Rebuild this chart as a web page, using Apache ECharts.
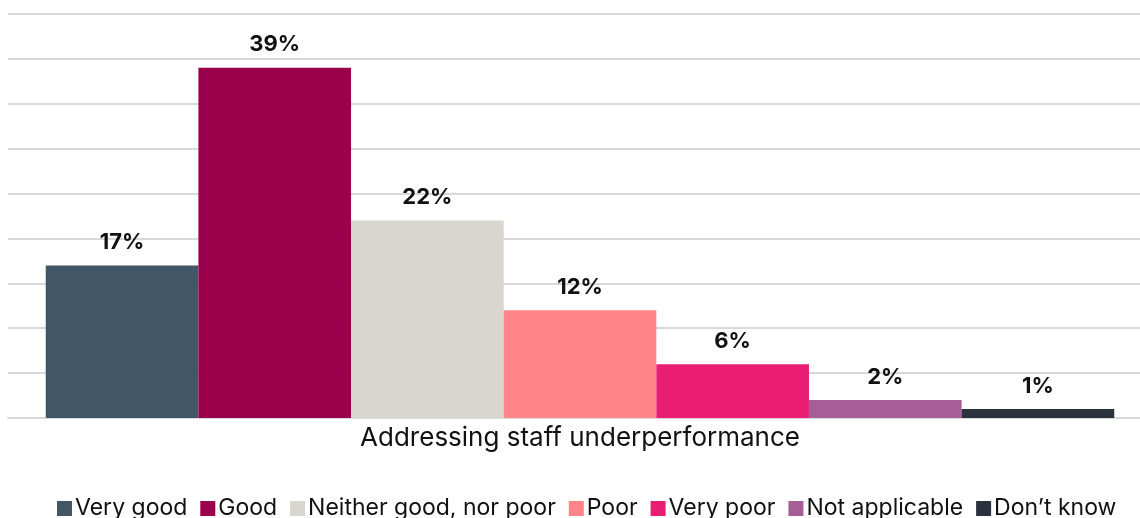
<!DOCTYPE html>
<html>
<head>
<meta charset="utf-8">
<script src="https://cdn.jsdelivr.net/npm/echarts@6/dist/echarts.min.js"></script>
<style>
  html, body { margin: 0; padding: 0; background: #ffffff; overflow: hidden; width: 1140px; height: 518px; }
  #chart { width: 1152px; height: 518px; }
</style>
</head>
<body>
<div id="chart"></div>
<script>
// Survey responses for a single question, one bar per answer
const categories = ['Addressing staff underperformance'];
const seriesNames = ['Very good', 'Good', 'Neither good, nor poor', 'Poor', 'Very poor', 'Not applicable', 'Don\u2019t know'];
const seriesValues = [17, 39, 22, 12, 6, 2, 1];
const seriesColors = ['#435666', '#9a004b', '#d9d5cf', '#ff8589', '#e91e73', '#a65e96', '#29323d'];

const FONT = 'Inter, "Liberation Sans", Arial, sans-serif';

const chart = echarts.init(document.getElementById('chart'), null, { renderer: 'canvas' });

const series = seriesNames.map((name, i) => ({
  name: name,
  type: 'bar',
  data: [seriesValues[i]],
  barGap: '0%',
  barCategoryGap: '6.6%',
  itemStyle: { color: seriesColors[i] },
  label: {
    show: true,
    position: 'top',
    distance: 12,
    formatter: '{c}%',
    fontFamily: FONT,
    fontWeight: 'bold',
    fontSize: 22,
    color: '#111111'
  }
}));

chart.setOption({
  animation: false,
  grid: { left: 8, right: 0, top: 14, bottom: 100, containLabel: false },
  legend: {
    data: seriesNames,
    bottom: -7,
    left: 52,
    itemWidth: 15,
    itemHeight: 15,
    itemGap: 13,
    icon: 'rect',
    textStyle: { fontFamily: FONT, fontSize: 23, color: '#111111', padding: [0, 0, 0, -2] }
  },
  xAxis: {
    type: 'category',
    data: categories,
    axisLine: { show: true, lineStyle: { color: '#d9d9d9', width: 2 } },
    axisTick: { show: false },
    axisLabel: { fontFamily: FONT, fontSize: 26, color: '#111111', margin: 7 }
  },
  yAxis: {
    type: 'value',
    min: 0,
    max: 45,
    interval: 5,
    axisLabel: { show: false },
    axisLine: { show: false },
    axisTick: { show: false },
    splitLine: { lineStyle: { color: '#d9d9d9', width: 2 } }
  },
  series: series
});
</script>
</body>
</html>
